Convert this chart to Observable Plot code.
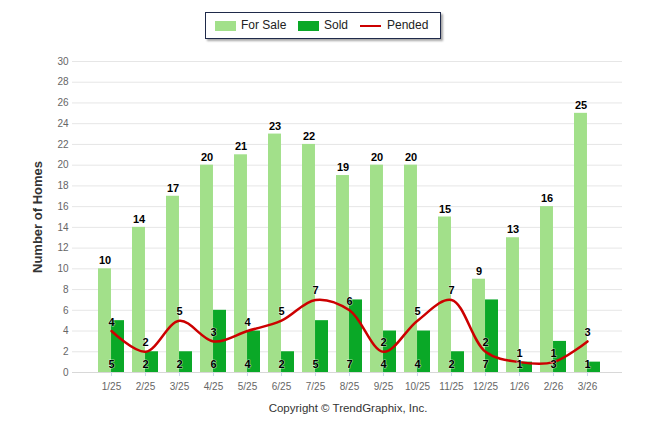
<!DOCTYPE html>
<html>
<head>
<meta charset="utf-8">
<script src="https://cdn.jsdelivr.net/npm/d3@7"></script>
<script src="https://cdn.jsdelivr.net/npm/@observablehq/plot@0.6"></script>
<style>
  html, body { margin: 0; padding: 0; background: #fff; }
  #wrap { width: 646px; font-family: "Liberation Sans", Arial, sans-serif; }
  #legend { position: relative; height: 48px; }
  #legend .box { position: absolute; left: 205px; top: 12px; width: 234px; height: 25px;
    border: 1px solid #1f2a4a; box-shadow: 2px 2px 2px rgba(0,0,0,0.35); background: #fff;
    font-size: 12px; color: #222; }
  #legend .item { position: absolute; top: 6px; line-height: 13px; }
  #legend .sw { position: absolute; top: 8px; width: 21px; height: 10px; }
  #legend .ln { position: absolute; top: 12px; width: 21px; height: 2px; }
  #caption { text-align: center; font-size: 11.5px; color: #333; margin-top: 4px; padding-left: 50px; }
</style>
</head>
<body>
<div id="wrap">
  <div id="legend"><div class="box">
    <div class="sw" style="left:9px;background:#a2e08a"></div><div class="item" style="left:35px">For Sale</div>
    <div class="sw" style="left:92px;background:#0aa827"></div><div class="item" style="left:118px">Sold</div>
    <div class="ln" style="left:154px;background:#cc0000"></div><div class="item" style="left:181px">Pended</div>
  </div></div>
  <div id="chart"></div>
  <div id="caption">Copyright © TrendGraphix, Inc.</div>
</div>
<script>
const months = ["1/25","2/25","3/25","4/25","5/25","6/25","7/25","8/25","9/25","10/25","11/25","12/25","1/26","2/26","3/26"];
const forSale = [10,14,17,20,21,23,22,19,20,20,15,9,13,16,25];
const sold = [5,2,2,6,4,2,5,7,4,4,2,7,1,3,1];
const pended = [4,2,5,3,4,5,7,6,2,5,7,2,1,1,3];
const yTicks = d3.range(0, 31, 2);

const data = months.map((m, i) => ({month: m, forSale: forSale[i], sold: sold[i], pended: pended[i]}));
const half = 13.03;
const lbl = {fontSize: 11, fontWeight: "bold", fill: "#000", stroke: "#fff", strokeWidth: 1, strokeOpacity: 0.6};

const chart = Plot.plot({
  width: 646, height: 350,
  marginLeft: 72, marginRight: 24, marginTop: 13, marginBottom: 26,
  style: {fontFamily: "Liberation Sans, Arial, sans-serif", fontSize: "10px", color: "#666", background: "#fff"},
  x: {type: "band", domain: months, range: [94, 605], paddingInner: 0.235, paddingOuter: 0.1175},
  y: {domain: [0, 30]},
  marks: [
    Plot.ruleY(yTicks.filter(d => d > 0), {stroke: "#e6e6e6"}),
    Plot.barY(data, {x: "month", y: "forSale", fill: "#a2e08a", insetRight: half}),
    Plot.barY(data, {x: "month", y: "sold", fill: "#0aa827", insetLeft: half}),
    Plot.ruleY([0], {stroke: "#d8d8d8"}),
    Plot.line(data, {x: "month", y: "pended", curve: "catmull-rom", stroke: "#cc0000", strokeWidth: 2.5}),
    Plot.text(data, {x: "month", y: "forSale", text: d => String(d.forSale), dx: -6.5, dy: -8, ...lbl}),
    Plot.text(data, {x: "month", y: 0, text: d => String(d.sold), dy: -8, ...lbl}),
    Plot.text(data, {x: "month", y: "pended", text: d => String(d.pended), dy: -9, ...lbl}),
    Plot.axisX({tickSize: 4, tickPadding: 6, stroke: "#ccd6eb", fill: "#666", label: null}),
    Plot.axisY({ticks: yTicks, tickSize: 0, tickPadding: 4, fill: "#666", label: null}),
    Plot.text(["Number of Homes"], {frameAnchor: "left", textAnchor: "middle", dx: -35, rotate: -90, fontSize: 13, fontWeight: "bold", fill: "#333"})
  ]
});
document.getElementById("chart").appendChild(chart);
</script>
</body>
</html>
